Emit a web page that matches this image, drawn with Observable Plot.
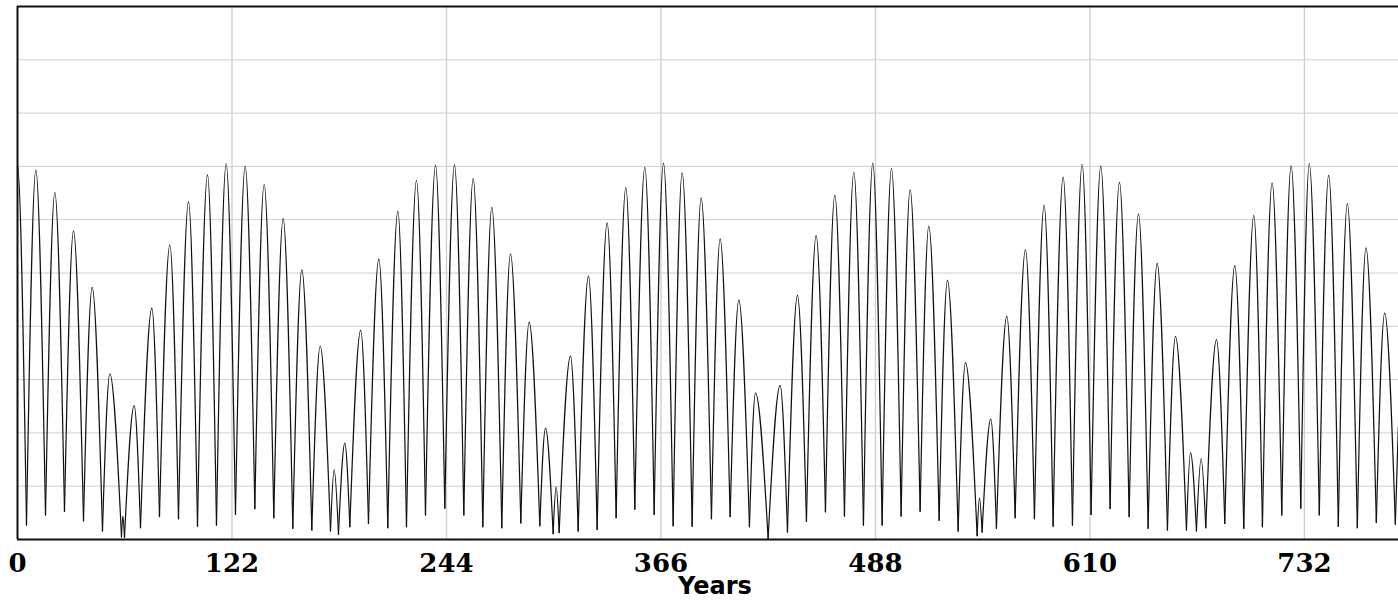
<!DOCTYPE html>
<html>
<head>
<meta charset="utf-8">
<script src="https://cdn.jsdelivr.net/npm/d3@7"></script>
<script src="https://cdn.jsdelivr.net/npm/@observablehq/plot@0.6"></script>
<style>
  html, body { margin: 0; padding: 0; background: #fff; }
</style>
</head>
<body>
<div id="chart"></div>
<script>
// Arch peaks (year, value)
const peakYear = [0, 10.43, 21.23, 31.85, 42.47, 52.52, 59.91, 66.36, 76.40, 86.64,
  97.26, 108.06, 118.68, 129.49, 140.29, 151.10, 161.72, 172.15, 180.11, 186.17,
  195.2, 205.51, 216.32, 226.94, 237.75, 248.55, 259.17, 269.78, 280.40, 291.02,
  300.31, 306.37, 314.52, 324.76, 335.38, 346.00, 356.81, 367.42, 378.04, 388.85,
  399.65, 410.27, 419.75, 433.77, 443.63, 454.25, 464.87, 475.68, 486.48, 497.10,
  507.72, 518.33, 528.95, 539.19, 547.15, 553.59, 562.70, 573.31, 583.93, 594.74,
  605.54, 616.16, 626.78, 637.59, 648.21, 658.63, 667.17, 673.24, 681.96, 692.38,
  703.18, 713.61, 724.42, 734.74, 745.77, 756.39, 767.01, 777.63];
const peakValue = [0.702, 0.693, 0.651, 0.579, 0.473, 0.311, 0.044, 0.251, 0.434, 0.553,
  0.634, 0.684, 0.705, 0.700, 0.666, 0.602, 0.506, 0.363, 0.131, 0.181,
  0.393, 0.526, 0.616, 0.674, 0.702, 0.703, 0.677, 0.623, 0.536, 0.408,
  0.209, 0.099, 0.344, 0.494, 0.594, 0.660, 0.698, 0.706, 0.688, 0.641,
  0.564, 0.449, 0.275, 0.289, 0.458, 0.570, 0.646, 0.689, 0.706, 0.696,
  0.656, 0.588, 0.486, 0.332, 0.078, 0.226, 0.419, 0.544, 0.627, 0.680,
  0.704, 0.701, 0.670, 0.611, 0.518, 0.381, 0.163, 0.152, 0.375, 0.514,
  0.608, 0.669, 0.701, 0.705, 0.683, 0.630, 0.547, 0.425];

// Sampled minima between arches (year, value)
const minYear = [-5.12, 5.12, 15.93, 26.73, 37.54, 48.34, 59.15, 60.86, 69.96, 80.76,
  91.57, 102.38, 113.18, 123.99, 134.99, 145.79, 156.60, 167.41, 178.02, 182.57,
  189.02, 199.63, 210.63, 221.25, 232.06, 243.05, 253.86, 264.67, 275.47, 286.28,
  297.09, 304.67, 308.08, 318.89, 329.69, 340.50, 351.12, 362.13, 372.92, 383.73,
  394.72, 405.34, 416.33, 426.95, 437.95, 448.75, 459.56, 470.37, 481.17, 491.79,
  502.60, 513.41, 524.21, 535.02, 545.83, 548.66, 556.82, 567.44, 578.43, 589.05,
  600.05, 610.66, 621.47, 632.28, 643.09, 654.08, 664.89, 670.58, 675.89, 686.69,
  697.50, 708.11, 719.11, 729.92, 740.46, 751.27, 762.08, 772.89, 783.70];
const minValue = [0.027, 0.027, 0.046, 0.053, 0.035, 0.016, 0.005, 0.004, 0.022, 0.043,
  0.039, 0.025, 0.027, 0.047, 0.058, 0.041, 0.021, 0.018, 0.016, 0.010,
  0.024, 0.030, 0.022, 0.024, 0.046, 0.059, 0.046, 0.024, 0.022, 0.031,
  0.026, 0.011, 0.013, 0.016, 0.019, 0.041, 0.057, 0.047, 0.026, 0.025,
  0.039, 0.043, 0.024, 0.002, 0.014, 0.034, 0.052, 0.044, 0.027, 0.027,
  0.044, 0.053, 0.036, 0.016, 0.007, 0.014, 0.021, 0.041, 0.039, 0.025,
  0.027, 0.047, 0.058, 0.043, 0.021, 0.018, 0.018, 0.016, 0.022, 0.030,
  0.021, 0.024, 0.046, 0.059, 0.046, 0.025, 0.022, 0.032, 0.029];

// Last sample at the right edge
const edgeYear = 785.4;
const edgeValue = 0.211;

const xDomain = [0, 785.5];
const xTicks = [0, 122, 244, 366, 488, 610, 732];
const yGrid = [0.1, 0.2, 0.3, 0.4, 0.5, 0.6, 0.7, 0.8, 0.9];
const xLabel = "Years";

const rows = [];
peakYear.forEach((py, i) => {
  rows.push({arch: i, year: minYear[i], value: minValue[i]});
  rows.push({arch: i, year: py, value: peakValue[i]});
  rows.push({arch: i, year: minYear[i + 1], value: minValue[i + 1]});
});
rows.push({arch: "end", year: minYear[minYear.length - 1], value: minValue[minValue.length - 1]});
rows.push({arch: "end", year: edgeYear, value: edgeValue});

const chart = Plot.plot({
  width: 1398,
  height: 601,
  marginLeft: 17,
  marginRight: 0,
  marginTop: 6,
  marginBottom: 62,
  style: {fontFamily: "DejaVu Serif", background: "#fff"},
  x: {domain: xDomain, axis: null},
  y: {domain: [0, 1], axis: null},
  marks: [
    Plot.ruleY(yGrid, {stroke: "#cfcfcf", strokeWidth: 1}),
    Plot.ruleX(xTicks.filter(d => d > 0), {stroke: "#d0d0d0", strokeWidth: 1.4}),
    Plot.line(rows, {x: "year", y: "value", z: "arch", curve: "monotone-x", stroke: "#111", strokeWidth: 1.2, clip: true}),
    Plot.ruleY([0], {stroke: "#111", strokeWidth: 2}),
    Plot.ruleY([1], {stroke: "#111", strokeWidth: 2}),
    Plot.ruleX([0], {stroke: "#111", strokeWidth: 2}),
    Plot.axisX(xTicks, {tickSize: 0, tickPadding: 14, fontSize: 26, fontWeight: "bold", fontFamily: "DejaVu Serif", fill: "#000", stroke: "#000", strokeWidth: 0.6, label: null}),
    Plot.text([xLabel], {frameAnchor: "bottom", text: d => d, dy: 54, dx: 7, fontSize: 24, fontWeight: "bold", fontFamily: "DejaVu Sans", fill: "#000"})
  ]
});
document.getElementById("chart").appendChild(chart);
</script>
</body>
</html>
